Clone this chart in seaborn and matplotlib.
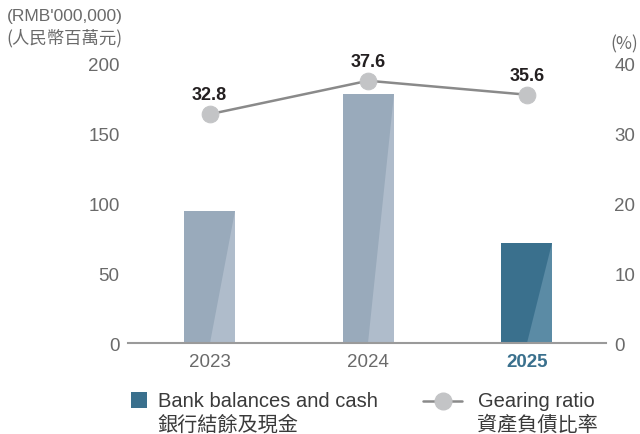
import matplotlib
matplotlib.use("Agg")
import matplotlib.pyplot as plt
from matplotlib.patches import Polygon
from matplotlib.lines import Line2D
import seaborn as sns
import pandas as pd

# Chart data
years = ["2023", "2024", "2025"]
bank_cash = [95, 178.5, 72]          # RMB million
gearing = [32.8, 37.6, 35.6]          # %
left_ticks = [0, 50, 100, 150, 200]
right_ticks = [0, 10, 20, 30, 40]

sns.set_theme(style="white")
plt.rcParams["font.family"] = ["Liberation Sans", "Noto Sans CJK TC", "DejaVu Sans"]

TICK_GREY = "#6a6a6a"
TEXT_DARK = "#3a3a3a"
BAR_OLD = "#99aabb"
BAR_OLD_HI = "#afbccb"
BAR_NEW = "#3a708d"
BAR_NEW_HI = "#5b8ba5"
CJK = ["Noto Sans CJK TC", "DejaVu Sans"]

df = pd.DataFrame({"year": years, "cash": bank_cash, "gearing": gearing})

fig = plt.figure(figsize=(6.4, 4.35), dpi=100)
ax = fig.add_axes([0.2, 0.209, 0.747, 0.6416])

palette = [BAR_OLD, BAR_OLD, BAR_NEW]
sns.barplot(data=df, x="year", y="cash", hue="year", palette=palette,
            width=0.32, ax=ax, legend=False, saturation=1, linewidth=0)

# lighter diagonal facet on the right side of each bar
hi_cols = [BAR_OLD_HI, BAR_OLD_HI, BAR_NEW_HI]
for patch, hc in zip(ax.patches, hi_cols):
    x0 = patch.get_x()
    w = patch.get_width()
    h = patch.get_height()
    tri = Polygon([(x0 + w * 0.5, 0), (x0 + w, 0), (x0 + w, h)],
                  closed=True, facecolor=hc, edgecolor="none", zorder=patch.get_zorder() + 0.1)
    ax.add_patch(tri)

ax.set_xlim(-0.514, 2.5)
ax.set_ylim(0, 200)
ax.set_yticks(left_ticks)
ax.set_xlabel("")
ax.set_ylabel("")
for s in ["top", "right", "left"]:
    ax.spines[s].set_visible(False)
ax.spines["bottom"].set_color("#9a9a9a")
ax.spines["bottom"].set_linewidth(1.5)
ax.tick_params(axis="y", length=0, pad=6, labelsize=13.5, labelcolor=TICK_GREY)
ax.tick_params(axis="x", length=0, pad=7, labelsize=13.5, labelcolor=TICK_GREY)
lab = ax.get_xticklabels()
lab[-1].set_fontweight("bold")
lab[-1].set_color(BAR_NEW)

ax2 = ax.twinx()
sns.lineplot(data=df, x="year", y="gearing", ax=ax2, color="#8a8a8a", linewidth=1.8,
             marker="o", markersize=12, markerfacecolor="#c3c4c6",
             markeredgecolor="#c3c4c6", sort=False)
ax2.set_ylim(0, 40)
ax2.set_yticks(right_ticks)
ax2.set_ylabel("")
ax2.set_xlabel("")
for s in ["top", "right", "left", "bottom"]:
    ax2.spines[s].set_visible(False)
ax2.tick_params(axis="y", length=0, pad=6, labelsize=13.5, labelcolor=TICK_GREY)
for i, v in enumerate(gearing):
    ax2.annotate(f"{v:.1f}", (i, v), xytext=(0, 8), textcoords="offset points",
                 ha="center", va="bottom", fontsize=13, fontweight="bold", color="#231f20")

# unit captions
fig.text(123 / 640, 1 - 17 / 435, "(RMB'000,000)", ha="right", va="center",
         fontsize=12.5, color=TICK_GREY)
fig.text(123 / 640, 1 - 38 / 435, "(人民幣百萬元)", ha="right", va="center",
         fontsize=12.5, color=TICK_GREY, family=CJK)
fig.text(638 / 640, 1 - 44 / 435, "(%)", ha="right", va="center",
         fontsize=12.5, color=TICK_GREY, family=CJK)

# legend
fig.patches.append(plt.Rectangle((131 / 640, 1 - 409 / 435), 16 / 640, 16 / 435,
                                 transform=fig.transFigure, facecolor=BAR_NEW,
                                 edgecolor="none"))
fig.text(158 / 640, 1 - 402 / 435, "Bank balances and cash", ha="left", va="center",
         fontsize=14.5, color=TEXT_DARK)
fig.text(157 / 640, 1 - 425 / 435, "銀行結餘及現金", ha="left", va="center",
         fontsize=14.5, color=TEXT_DARK, family=CJK)
fig.lines.append(Line2D([423 / 640, 462 / 640], [1 - 402 / 435, 1 - 402 / 435],
                        transform=fig.transFigure, color="#8a8a8a", linewidth=1.8))
fig.lines.append(Line2D([443 / 640], [1 - 402 / 435], transform=fig.transFigure,
                        marker="o", markersize=12, markerfacecolor="#c3c4c6",
                        markeredgecolor="#c3c4c6", linestyle="none"))
fig.text(478 / 640, 1 - 402 / 435, "Gearing ratio", ha="left", va="center",
         fontsize=14.5, color=TEXT_DARK)
fig.text(477 / 640, 1 - 425 / 435, "資產負債比率", ha="left", va="center",
         fontsize=14.5, color=TEXT_DARK, family=CJK)

fig.savefig("out.png", dpi=100)
